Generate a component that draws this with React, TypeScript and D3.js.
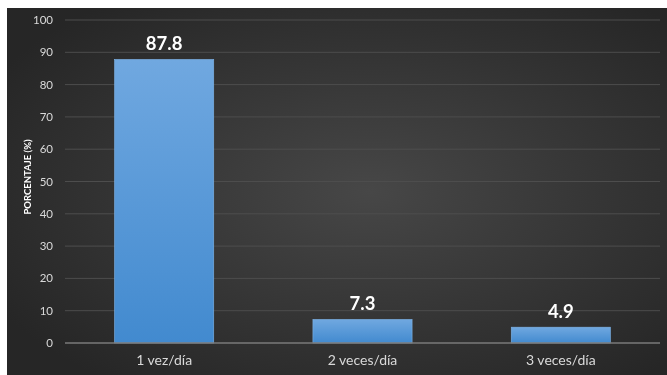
import React from "react";
import * as d3 from "d3";

const categories = ["1 vez/día", "2 veces/día", "3 veces/día"];
const values = [87.8, 7.3, 4.9];
const yTicks = [0, 10, 20, 30, 40, 50, 60, 70, 80, 90, 100];
const yTitle = "PORCENTAJE (%)";

const W = 660;
const H = 367;
const margin = { left: 58, right: 7, top: 12, bottom: 32 };

export default function App() {
  const x = d3
    .scaleBand<string>()
    .domain(categories)
    .range([margin.left, W - margin.right])
    .paddingInner(0.5)
    .paddingOuter(0.25);
  const y = d3.scaleLinear().domain([0, 100]).range([H - margin.bottom, margin.top]);
  const font = "Lato, 'Open Sans', sans-serif";

  return (
    <svg
      width={W}
      height={H}
      style={{ position: "fixed", left: 7, top: 8, display: "block" }}
      fontFamily={font}
    >
      <defs>
        <radialGradient id="bg" cx="55%" cy="50%" r="65%">
          <stop offset="0%" stopColor="#474747" />
          <stop offset="100%" stopColor="#262626" />
        </radialGradient>
        <linearGradient id="bar" x1="0" y1="0" x2="0" y2="1">
          <stop offset="0%" stopColor="#70a8e0" />
          <stop offset="100%" stopColor="#428acf" />
        </linearGradient>
      </defs>
      <rect x={0} y={0} width={W} height={H} fill="url(#bg)" />
      {yTicks.map((t) => (
        <g key={t}>
          {t !== 0 && (
            <line
              x1={margin.left}
              x2={W - margin.right}
              y1={y(t)}
              y2={y(t)}
              stroke="#4d4d4d"
              strokeWidth={1}
            />
          )}
          <text
            x={46}
            y={y(t)}
            dy="0.35em"
            textAnchor="end"
            fill="#d9d9d9"
            fontSize={11.5}
          >
            {t}
          </text>
        </g>
      ))}
      {categories.map((c, i) => (
        <g key={c}>
          <rect
            x={x(c)}
            y={y(values[i])}
            width={x.bandwidth()}
            height={y(0) - y(values[i])}
            fill="url(#bar)"
            stroke="#7fb3e6"
            strokeWidth={0.6}
          />
          <text
            x={(x(c) as number) + x.bandwidth() / 2}
            y={y(values[i]) - 9}
            textAnchor="middle"
            fill="#ffffff"
            fontSize={18.5}
            fontWeight="bold"
          >
            {values[i]}
          </text>
          <text
            x={(x(c) as number) + x.bandwidth() / 2}
            y={y(0) + 22}
            textAnchor="middle"
            fill="#d9d9d9"
            fontSize={14}
          >
            {c}
          </text>
        </g>
      ))}
      <line
        x1={margin.left}
        x2={W - margin.right}
        y1={y(0)}
        y2={y(0)}
        stroke="#7a7a7a"
        strokeWidth={1.5}
      />
      <text
        transform={`translate(21, 169) rotate(-90)`}
        textAnchor="middle"
        fill="#ffffff"
        fontSize={9.5}
        fontWeight="bold"
        dy="0.35em"
      >
        {yTitle}
      </text>
    </svg>
  );
}
